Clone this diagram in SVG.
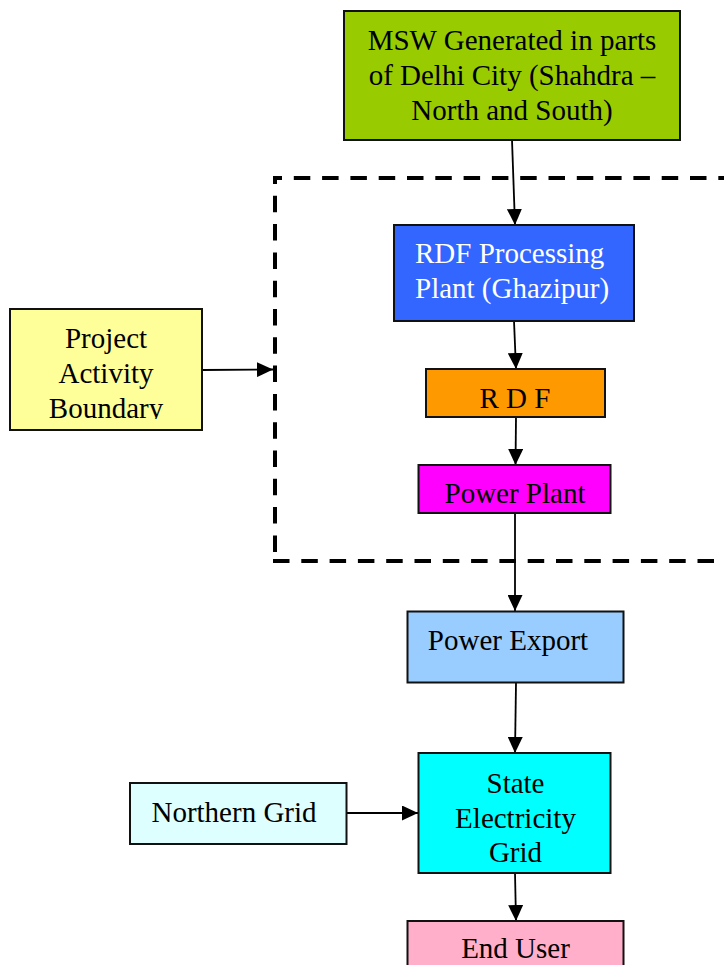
<svg xmlns="http://www.w3.org/2000/svg" width="724" height="965" viewBox="0 0 724 965">
<defs>
<style>
.box{stroke:#111;stroke-width:2}
.t{font-family:"Liberation Serif","Times New Roman",serif;font-size:29px;fill:#000;text-anchor:middle}
.c{stroke:#000;stroke-width:1.8;fill:none;marker-end:url(#ah)}
.b{fill:none;stroke:#000;stroke-width:4;stroke-dasharray:16.5,11.8}
</style>
<marker id="ah" markerUnits="userSpaceOnUse" markerWidth="16" markerHeight="15" refX="16" refY="7.5" orient="auto">
<path d="M0,0 L16,7.5 L0,15 z" fill="#000"/>
</marker>
<clipPath id="clipPab"><rect x="10" y="309" width="192" height="110"/></clipPath>
</defs>
<rect width="724" height="965" fill="#fff"/>
<g id="boundary">
<path class="b" d="M273,178 H724" stroke-dashoffset="7.5"/>
<path class="b" d="M275,176 V561" stroke-dashoffset="8.5"/>
<path class="b" d="M273,561 H724"/>
</g>
<g id="connectors">
<line class="c" x1="512" y1="140" x2="515" y2="225"/>
<line class="c" x1="514" y1="321" x2="516" y2="369"/>
<line class="c" x1="516" y1="417" x2="515.5" y2="465"/>
<line class="c" x1="515" y1="513" x2="515" y2="611"/>
<line class="c" x1="516" y1="683" x2="515" y2="753"/>
<line class="c" x1="515" y1="873" x2="516" y2="921"/>
<line class="c" x1="202" y1="370" x2="273" y2="369.5"/>
<line class="c" x1="347" y1="813" x2="418" y2="813"/>
</g>
<g id="msw">
<rect class="box" x="344" y="11" width="336" height="129" fill="#99CC00"/>
<text class="t" x="512" y="50">MSW Generated in parts</text>
<text class="t" x="512" y="85">of Delhi City (Shahdra –</text>
<text class="t" x="512" y="120">North and South)</text>
</g>
<g id="rdfplant">
<rect class="box" x="394" y="225" width="240" height="96" fill="#3366FF"/>
<text class="t" x="415" y="263" style="fill:#fff;text-anchor:start">RDF Processing</text>
<text class="t" x="415" y="298" style="fill:#fff;text-anchor:start">Plant (Ghazipur)</text>
</g>
<g id="pab">
<rect class="box" x="10" y="309" width="192" height="121" fill="#FFFF99"/>
<g clip-path="url(#clipPab)">
<text class="t" x="106" y="348">Project</text>
<text class="t" x="106" y="383">Activity</text>
<text class="t" x="106" y="418">Boundary</text>
</g>
</g>
<g id="rdf">
<rect class="box" x="426" y="369" width="179" height="48" fill="#FF9900"/>
<text class="t" x="515" y="408">R D F</text>
</g>
<g id="powerplant">
<rect class="box" x="418.5" y="465" width="192" height="48" fill="#FF00FF"/>
<text class="t" x="515" y="503">Power Plant</text>
</g>
<g id="powerexport">
<rect class="box" x="407.5" y="611.5" width="216" height="71" fill="#99CCFF"/>
<text class="t" x="508" y="650">Power Export</text>
</g>
<g id="stategrid">
<rect class="box" x="418.5" y="753" width="192" height="120" fill="#00FFFF"/>
<text class="t" x="515.5" y="793">State</text>
<text class="t" x="515.5" y="828">Electricity</text>
<text class="t" x="515.5" y="862">Grid</text>
</g>
<g id="northerngrid">
<rect class="box" x="130" y="783" width="216.5" height="61" fill="#DDFFFF"/>
<text class="t" x="234" y="822">Northern Grid</text>
</g>
<g id="enduser">
<rect class="box" x="407.5" y="921" width="216" height="60" fill="#FFAFCA"/>
<text class="t" x="515.5" y="958">End User</text>
</g>
</svg>
